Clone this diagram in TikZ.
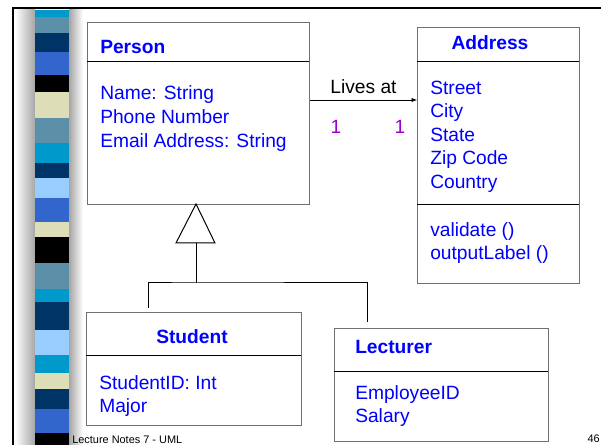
\documentclass[tikz,border=0pt]{standalone}
\usepackage{fontspec}
\setmainfont{Liberation Sans}
\usetikzlibrary{positioning,arrows.meta}
\definecolor{umlblue}{HTML}{0000FF}
\definecolor{multcol}{HTML}{9900CC}
\definecolor{cyanb}{HTML}{0099CC}
\definecolor{steel}{HTML}{5B90A8}
\definecolor{navy}{HTML}{003366}
\definecolor{royal}{HTML}{3366CC}
\definecolor{beige}{HTML}{DDDDB8}
\definecolor{lightb}{HTML}{99CCFF}
\definecolor{boxline}{HTML}{707070}

\begin{document}
\begin{tikzpicture}[x=0.75pt, y=-0.75pt,
    classbox/.style = {draw=boxline, line width=0.75pt, anchor=north west, inner sep=0pt},
    title/.style = {text=umlblue, font=\fontsize{14.4}{17}\selectfont\bfseries, inner sep=0pt},
    attrs/.style = {text=umlblue, font=\fontsize{14.4}{17.7}\selectfont, align=left, anchor=west, inner sep=0pt},
    mult/.style = {text=multcol, font=\fontsize{14.4}{17}\selectfont, inner sep=0pt},
    footer/.style = {font=\fontsize{8.2}{10}\selectfont, inner sep=0pt}]
    \useasboundingbox (0,0) rectangle (601,445);

    % slide decoration
    \shade[left color=white, right color=gray!70] (15,8) rectangle (35,445);
    \shade[left color=gray!70, right color=white] (69,8) rectangle (83,445);
    \foreach \ya/\yb/\c in {10/17/cyanb, 17/33/steel, 33/52/navy, 52/75/royal,
        75/92/black, 92/118/beige, 118/143/steel, 143/163/cyanb, 163/178/navy,
        178/198/lightb, 198/222/royal, 222/237/beige, 237/263/black, 263/289/steel,
        289/302/cyanb, 302/330/navy, 330/355/lightb, 355/373/cyanb, 373/389/beige,
        389/409/navy, 409/433/royal, 433/445/black}
        \fill[\c] (35,\ya) rectangle (69,\yb);
    \draw[line width=1.9pt] (601,8) -- (13,8) -- (13,445);

    % classes
    \node[classbox, minimum width=166.5pt, minimum height=136.5pt] (person) at (87,22) {};
    \node[classbox, minimum width=121.5pt, minimum height=192pt] (address) at (417,27) {};
    \node[classbox, minimum width=161.25pt, minimum height=84.75pt] (student) at (86,312) {};
    \node[classbox, minimum width=160.5pt, minimum height=84.75pt] (lecturer) at (334,328) {};

    \draw (person.north west) ++(0,39) -- ++(222,0);
    \draw (address.north west) ++(0,34) -- ++(162,0);
    \draw (address.north west) ++(0,177) -- ++(162,0);
    \draw (student.north west) ++(0,43) -- ++(215,0);
    \draw (lecturer.north west) ++(0,43) -- ++(214,0);

    \node[title, anchor=west] (persontitle) at (100,47) {Person};
    \node[attrs] (personattrs) at (100,118.5) {Name: String\\Phone Number\\Email Address: String};

    \node[title] (addresstitle) at (490,43) {Address};
    \node[attrs] (addressattrs) at (430,136.5) {Street\\City\\State\\Zip Code\\Country};
    \node[attrs] (addressops) at (430,243) {validate ()\\outputLabel ()};

    \node[title] (studenttitle) at (192,337) {Student};
    \node[attrs] (studentattrs) at (99,396) {StudentID: Int\\Major};

    \node[title, anchor=west] (lecturertitle) at (355,347) {Lecturer};
    \node[attrs] (lecturerattrs) at (355,406) {EmployeeID\\Salary};

    % association
    \coordinate (assoc) at (0,100);
    \draw[-{Latex[length=4pt,width=3pt]}] (person.east |- assoc) -- (address.west |- assoc)
        node[midway, above=4.3pt, inner sep=0pt, font=\fontsize{14.4}{17}\selectfont] (livesat) {Lives at};
    \node[mult] (multperson) at (336,127) {1};
    \node[mult] (multaddress) at (400,127) {1};

    % generalisation
    \coordinate (apex) at (196,204);
    \coordinate (gen) at (196,243);
    \coordinate (join) at (196,283);
    \coordinate (sdrop) at (148,308);
    \coordinate (ldrop) at (367,322);
    \draw[line width=0.75pt] (apex) -- (176,243) -- (215,243) -- cycle;
    \draw[line width=0.75pt] (gen) -- (join);
    \draw[line width=0.75pt] (sdrop) |- (join) -| (ldrop);

    % footer
    \node[footer, anchor=west] (notes) at (72,440) {Lecture Notes 7 - UML};
    \node[footer, anchor=east] (page) at (600,439) {46};
\end{tikzpicture}
\end{document}
